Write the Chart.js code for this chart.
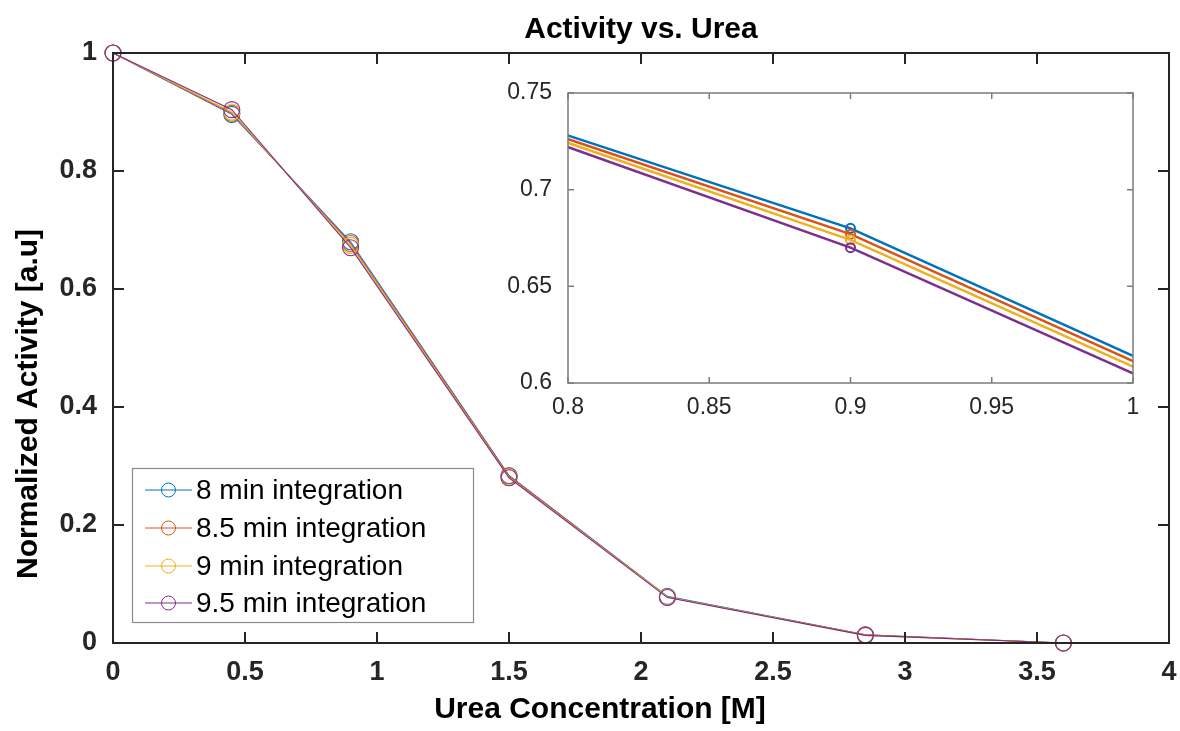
<!DOCTYPE html>
<html><head><meta charset="utf-8">
<script src="https://cdn.jsdelivr.net/npm/chart.js@4.4.0/dist/chart.umd.min.js"></script>
<style>
html,body{margin:0;padding:0;background:#fff;}
#wrap{position:relative;width:1180px;height:731px;overflow:hidden;}
#main{position:absolute;left:0;top:0;}
#inset{position:absolute;left:500px;top:75px;}
</style></head><body>
<div id="wrap"><canvas id="main" width="1180" height="731"></canvas><canvas id="inset" width="650" height="350"></canvas></div>
<script>
const urea = [0, 0.45, 0.9, 1.5, 2.1, 2.85, 3.6];
const seriesNames = ['8 min integration', '8.5 min integration', '9 min integration', '9.5 min integration'];
const act8  = [1, 0.896, 0.680, 0.284, 0.079, 0.014, 0.000];
const act85 = [1, 0.898, 0.677, 0.283, 0.078, 0.014, 0.000];
const act9  = [1, 0.900, 0.674, 0.281, 0.078, 0.013, 0.000];
const act95 = [1, 0.904, 0.670, 0.280, 0.077, 0.013, 0.000];
const mainXTicks = [0, 0.5, 1, 1.5, 2, 2.5, 3, 3.5, 4];
const mainYTicks = [0, 0.2, 0.4, 0.6, 0.8, 1];
const insetXTicks = [0.8, 0.85, 0.9, 0.95, 1];
const insetYTicks = [0.6, 0.65, 0.7, 0.75];
const titleText = 'Activity vs. Urea';
const xTitleText = 'Urea Concentration [M]';
const yTitleText = 'Normalized Activity [a.u]';

const colors = ['#0072BD', '#D95319', '#EDB120', '#7E2F8E'];
const FONT = "'Liberation Sans', Arial, Helvetica, sans-serif";
const allSeries = [act8, act85, act9, act95];
const fmt = v => String(+(+v).toFixed(3));
const noPad = s => { s.paddingLeft = 0; s.paddingRight = 0; s.paddingTop = 0; s.paddingBottom = 0; };

function makeDatasets(lw, r, bw, clip) {
  return allSeries.map((ys, i) => ({
    label: seriesNames[i],
    data: urea.map((x, j) => ({x: x, y: ys[j]})),
    borderColor: colors[i],
    backgroundColor: 'rgba(0,0,0,0)',
    borderWidth: lw,
    pointRadius: r,
    pointHoverRadius: r,
    pointBorderWidth: bw,
    pointBackgroundColor: 'rgba(0,0,0,0)',
    pointBorderColor: colors[i],
    tension: 0,
    clip: clip,
    order: 3 - i
  }));
}

const mainDecor = {
  id: 'mainDecor',
  afterDraw(chart) {
    const ctx = chart.ctx, a = chart.chartArea, x = chart.scales.x, y = chart.scales.y;
    ctx.save();
    ctx.strokeStyle = '#262626'; ctx.lineWidth = 2;
    ctx.strokeRect(a.left, a.top, a.right - a.left, a.bottom - a.top);
    const L = 11;
    ctx.beginPath();
    mainXTicks.forEach(v => { const px = x.getPixelForValue(v);
      ctx.moveTo(px, a.bottom); ctx.lineTo(px, a.bottom - L);
      ctx.moveTo(px, a.top); ctx.lineTo(px, a.top + L); });
    mainYTicks.forEach(v => { const py = y.getPixelForValue(v);
      ctx.moveTo(a.left, py); ctx.lineTo(a.left + L, py);
      ctx.moveTo(a.right, py); ctx.lineTo(a.right - L, py); });
    ctx.stroke();

    ctx.fillStyle = '#000';
    ctx.font = 'bold 30px ' + FONT;
    ctx.textBaseline = 'alphabetic';
    ctx.textAlign = 'center';
    ctx.fillText(titleText, (a.left + a.right) / 2, 38);
    ctx.fillText(xTitleText, 600, 718);
    ctx.save();
    ctx.translate(37, 579); ctx.rotate(-Math.PI / 2);
    ctx.textAlign = 'left';
    ctx.fillText(yTitleText, 0, 0);
    ctx.restore();

    // legend
    const bx = 132, by = 468, bw = 341, bh = 154;
    ctx.fillStyle = '#fff';
    ctx.fillRect(bx, by, bw, bh);
    ctx.strokeStyle = '#8a8a8a'; ctx.lineWidth = 1.2;
    ctx.strokeRect(bx + 0.5, by + 0.5, bw, bh);
    const rows = [490, 528, 566, 603];
    ctx.font = '28px ' + FONT;
    ctx.textAlign = 'left'; ctx.textBaseline = 'middle';
    chart.data.datasets.forEach((ds, i) => {
      const ry = rows[i];
      ctx.strokeStyle = ds.borderColor; ctx.lineWidth = 1;
      ctx.beginPath(); ctx.moveTo(145, ry); ctx.lineTo(192, ry); ctx.stroke();
      ctx.beginPath(); ctx.arc(168.5, ry, 7, 0, Math.PI * 2); ctx.stroke();
      ctx.fillStyle = '#000';
      ctx.fillText(ds.label, 196, ry + 1);
    });
    ctx.restore();
  }
};

new Chart(document.getElementById('main'), {
  type: 'line',
  data: { datasets: makeDatasets(1.1, 8, 1.1, false) },
  options: {
    responsive: false, animation: false, devicePixelRatio: 1,
    layout: { padding: { top: 53, right: 11, left: 0, bottom: 0 } },
    plugins: { legend: { display: false }, tooltip: { enabled: false }, title: { display: false } },
    scales: {
      x: {
        type: 'linear', min: 0, max: 4,
        afterBuildTicks: s => { s.ticks = mainXTicks.map(v => ({value: v})); },
        afterFit: s => { s.height = 88; noPad(s); },
        grid: { display: false, drawTicks: false }, border: { display: false },
        ticks: { color: '#262626', font: { family: FONT, size: 27, weight: 'bold', lineHeight: 1 }, padding: 16, maxRotation: 0, autoSkip: false, callback: fmt }
      },
      y: {
        type: 'linear', min: 0, max: 1,
        afterBuildTicks: s => { s.ticks = mainYTicks.map(v => ({value: v})); },
        afterFit: s => { s.width = 113; noPad(s); },
        grid: { display: false, drawTicks: false }, border: { display: false },
        ticks: { color: '#262626', font: { family: FONT, size: 27, weight: 'bold', lineHeight: 1 }, padding: 16, autoSkip: false, callback: fmt }
      }
    }
  },
  plugins: [mainDecor]
});

const insetDecor = {
  id: 'insetDecor',
  beforeDatasetsDraw(chart) {
    const ctx = chart.ctx, a = chart.chartArea;
    ctx.save(); ctx.fillStyle = '#fff';
    ctx.fillRect(a.left, a.top, a.right - a.left, a.bottom - a.top);
    ctx.restore();
  },
  afterDraw(chart) {
    const ctx = chart.ctx, a = chart.chartArea, x = chart.scales.x, y = chart.scales.y;
    ctx.save();
    ctx.strokeStyle = '#7c7c7c'; ctx.lineWidth = 1.5;
    ctx.strokeRect(a.left, a.top, a.right - a.left, a.bottom - a.top);
    const L = 6;
    ctx.beginPath();
    insetXTicks.forEach(v => { const px = x.getPixelForValue(v);
      ctx.moveTo(px, a.bottom); ctx.lineTo(px, a.bottom - L);
      ctx.moveTo(px, a.top); ctx.lineTo(px, a.top + L); });
    insetYTicks.forEach(v => { const py = y.getPixelForValue(v);
      ctx.moveTo(a.left, py); ctx.lineTo(a.left + L, py);
      ctx.moveTo(a.right, py); ctx.lineTo(a.right - L, py); });
    ctx.stroke();
    ctx.restore();
  }
};

new Chart(document.getElementById('inset'), {
  type: 'line',
  data: { datasets: makeDatasets(2.5, 4.5, 2, 0) },
  options: {
    responsive: false, animation: false, devicePixelRatio: 1,
    layout: { padding: { top: 18, right: 17, left: 0, bottom: 0 } },
    plugins: { legend: { display: false }, tooltip: { enabled: false }, title: { display: false } },
    scales: {
      x: {
        type: 'linear', min: 0.8, max: 1,
        afterBuildTicks: s => { s.ticks = insetXTicks.map(v => ({value: v})); },
        afterFit: s => { s.height = 42; noPad(s); },
        grid: { display: false, drawTicks: false }, border: { display: false },
        ticks: { color: '#262626', font: { family: FONT, size: 23, lineHeight: 1 }, padding: 13, maxRotation: 0, autoSkip: false, callback: fmt }
      },
      y: {
        type: 'linear', min: 0.6, max: 0.75,
        afterBuildTicks: s => { s.ticks = insetYTicks.map(v => ({value: v})); },
        afterFit: s => { s.width = 68; noPad(s); },
        grid: { display: false, drawTicks: false }, border: { display: false },
        ticks: { color: '#262626', font: { family: FONT, size: 23, lineHeight: 1 }, padding: 16, autoSkip: false, callback: fmt }
      }
    }
  },
  plugins: [insetDecor]
});
</script>
</body></html>
